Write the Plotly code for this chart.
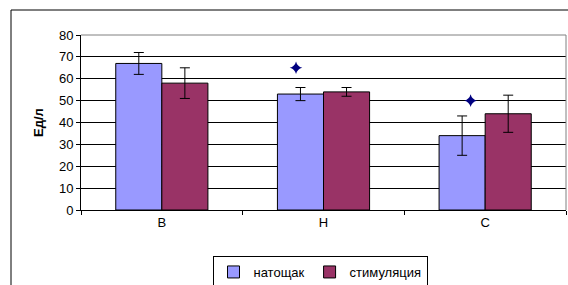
import plotly.graph_objects as go

categories = ["В", "Н", "С"]
fasting = [67, 53, 34]
fasting_err = [5, 3, 9]
stimulation = [58, 54, 44]
stimulation_err = [7, 2, 8.5]
star_x = [0.83, 1.91]
star_y = [65, 50]
y_ticks = [0, 10, 20, 30, 40, 50, 60, 70, 80]

W, H = 568, 285
L, R, T, B = 81, 2, 35, 75
pw, ph = W - L - R, H - T - B

def px(x):
    return (x - L) / pw

def py(y):
    return (H - B - y) / ph

font = dict(family="Arial, Liberation Sans, sans-serif", size=13, color="black")

fig = go.Figure()
fig.add_trace(go.Bar(
    x=categories, y=fasting, name="натощак",
    marker=dict(color="#9999FF", line=dict(color="black", width=1)),
    error_y=dict(type="data", array=fasting_err, color="black", thickness=1, width=5),
))
fig.add_trace(go.Bar(
    x=categories, y=stimulation, name="стимуляция",
    marker=dict(color="#993366", line=dict(color="black", width=1)),
    error_y=dict(type="data", array=stimulation_err, color="black", thickness=1, width=5),
))
fig.add_trace(go.Scatter(
    x=star_x, y=star_y, xaxis="x2", mode="markers", showlegend=False,
    marker=dict(symbol="star-diamond", size=9, color="#000080",
                line=dict(color="#000080", width=0)),
))

fig.update_layout(
    width=W, height=H,
    margin=dict(l=L, r=R, t=T, b=B, autoexpand=False),
    paper_bgcolor="white", plot_bgcolor="white",
    font=font,
    barmode="group", bargap=0.43, bargroupgap=0,
    xaxis=dict(type="category", range=[-0.5, 2.5], tickson="boundaries",
               ticks="outside", ticklen=4, tickcolor="black", automargin=False,
               showline=True, linecolor="black", linewidth=1,
               showgrid=False, tickfont=font),
    xaxis2=dict(overlaying="x", range=[-0.5, 2.5], visible=False),
    yaxis=dict(range=[0, 80], tickvals=y_ticks, ticks="outside", ticklen=4,
               tickcolor="black", showline=True, linecolor="black", linewidth=1,
               showgrid=True, gridcolor="black", gridwidth=1, zeroline=False,
               tickfont=font, automargin=False,
               title=dict(text="<b>Ед/л</b>", font=font, standoff=12)),
    legend=dict(orientation="h", x=px(320), xanchor="center", y=py(256), yanchor="top",
                bordercolor="black", borderwidth=1, font=font,
                itemwidth=30, tracegroupgap=0),
    shapes=[
        dict(type="line", xref="paper", yref="paper", x0=0, x1=1, y0=1, y1=1,
             line=dict(color="#808080", width=1)),
        dict(type="line", xref="paper", yref="paper", x0=1, x1=1, y0=0, y1=1,
             line=dict(color="#808080", width=1)),
        dict(type="line", xref="paper", yref="paper", x0=px(11), x1=px(11), y0=py(10), y1=py(290),
             line=dict(color="black", width=1)),
        dict(type="line", xref="paper", yref="paper", x0=px(11), x1=px(575), y0=py(10), y1=py(10),
             line=dict(color="black", width=1)),
    ],
)

fig.write_html("out.html", config={"displayModeBar": False},
               post_script="document.body.style.margin='0';document.body.style.overflow='hidden';")
